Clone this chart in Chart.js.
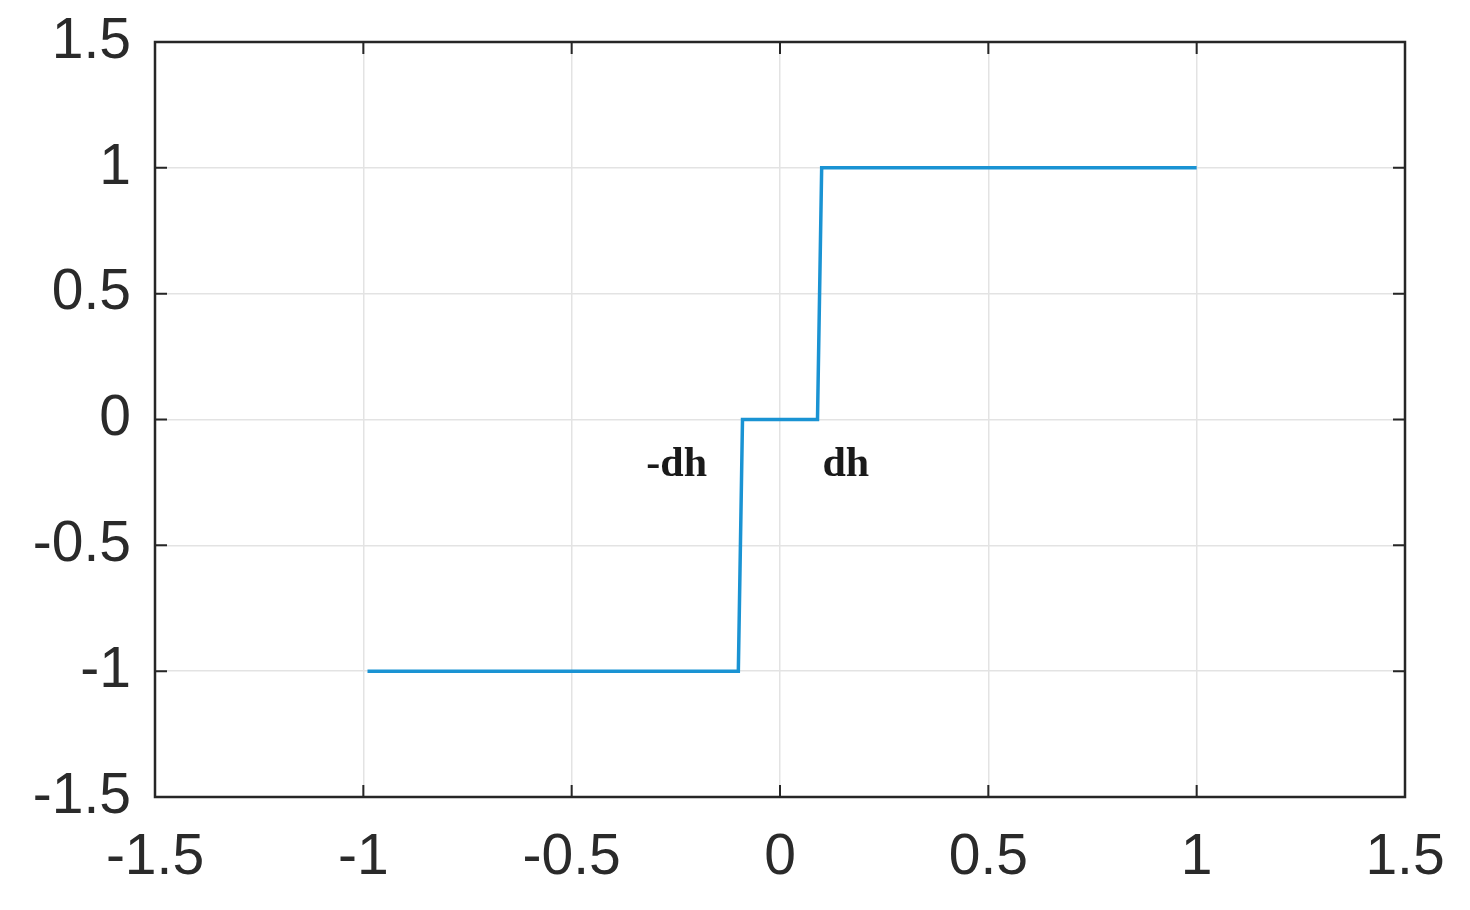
<!DOCTYPE html>
<html>
<head>
<meta charset="utf-8">
<script src="https://cdn.jsdelivr.net/npm/chart.js@4"></script>
<style>
  html, body { margin: 0; padding: 0; background: #fff; }
  #wrap { width: 1470px; height: 910px; }
</style>
</head>
<body>
<div id="wrap"><canvas id="chart" width="1470" height="910"></canvas></div>
<script>
// step curve with dead zone (-dh .. dh)
const xValues = [-0.99, -0.1, -0.09, 0.09, 0.1, 1.0];
const yValues = [-1, -1, 0, 0, 1, 1];
const xTicks = [-1.5, -1, -0.5, 0, 0.5, 1, 1.5];
const yTicks = [-1.5, -1, -0.5, 0, 0.5, 1, 1.5];
// annotation labels: [text, x, y]
const notes = [['-dh', -0.248, -0.182], ['dh', 0.158, -0.182]];

const points = xValues.map((x, i) => ({x: x, y: yValues[i]}));

// box, inward tick marks and the text labels
const boxPlugin = {
  id: 'box',
  afterDraw(chart) {
    const ctx = chart.ctx;
    const a = chart.chartArea;
    const xs = chart.scales.x, ys = chart.scales.y;
    ctx.save();
    ctx.strokeStyle = '#262626';
    ctx.lineWidth = 2.5;
    ctx.strokeRect(a.left, a.top, a.right - a.left, a.bottom - a.top);
    ctx.lineWidth = 2;
    const len = 12;
    xTicks.forEach(v => {
      const px = xs.getPixelForValue(v);
      ctx.beginPath();
      ctx.moveTo(px, a.bottom); ctx.lineTo(px, a.bottom - len);
      ctx.moveTo(px, a.top); ctx.lineTo(px, a.top + len);
      ctx.stroke();
    });
    yTicks.forEach(v => {
      const py = ys.getPixelForValue(v);
      ctx.beginPath();
      ctx.moveTo(a.left, py); ctx.lineTo(a.left + len, py);
      ctx.moveTo(a.right, py); ctx.lineTo(a.right - len, py);
      ctx.stroke();
    });
    ctx.fillStyle = '#1a1a1a';
    ctx.font = 'bold 42px "Liberation Serif", "Times New Roman", serif';
    ctx.textAlign = 'center';
    ctx.textBaseline = 'middle';
    notes.forEach(n => {
      ctx.fillText(n[0], xs.getPixelForValue(n[1]), ys.getPixelForValue(n[2]));
    });
    ctx.restore();
  }
};

const tickFont = {family: '"Liberation Sans", Arial, sans-serif', size: 57};

new Chart(document.getElementById('chart'), {
  type: 'scatter',
  data: {
    datasets: [{
      data: points,
      showLine: true,
      borderColor: '#1A93D3',
      borderWidth: 3.5,
      pointRadius: 0,
      fill: false
    }]
  },
  options: {
    responsive: false,
    animation: false,
    layout: {padding: {left: 0, top: 42, right: 65, bottom: 0}},
    plugins: {legend: {display: false}, tooltip: {enabled: false}},
    scales: {
      x: {
        type: 'linear', min: -1.5, max: 1.5,
        afterBuildTicks: s => { s.ticks = xTicks.map(v => ({value: v})); },
        afterFit: s => { s.height = 113; s.paddingLeft = 0; s.paddingRight = 0; },
        grid: {color: '#e3e3e3', lineWidth: 1.5, drawTicks: false},
        border: {display: false},
        ticks: {font: tickFont, color: '#2a2a2a', padding: 27, maxRotation: 0,
                callback: v => String(v)}
      },
      y: {
        type: 'linear', min: -1.5, max: 1.5,
        afterBuildTicks: s => { s.ticks = yTicks.map(v => ({value: v})); },
        afterFit: s => { s.width = 155; s.paddingTop = 0; s.paddingBottom = 0; },
        grid: {color: '#e3e3e3', lineWidth: 1.5, drawTicks: false},
        border: {display: false},
        ticks: {font: tickFont, color: '#2a2a2a', padding: 24,
                callback: v => String(v)}
      }
    }
  },
  plugins: [boxPlugin]
});
</script>
</body>
</html>
